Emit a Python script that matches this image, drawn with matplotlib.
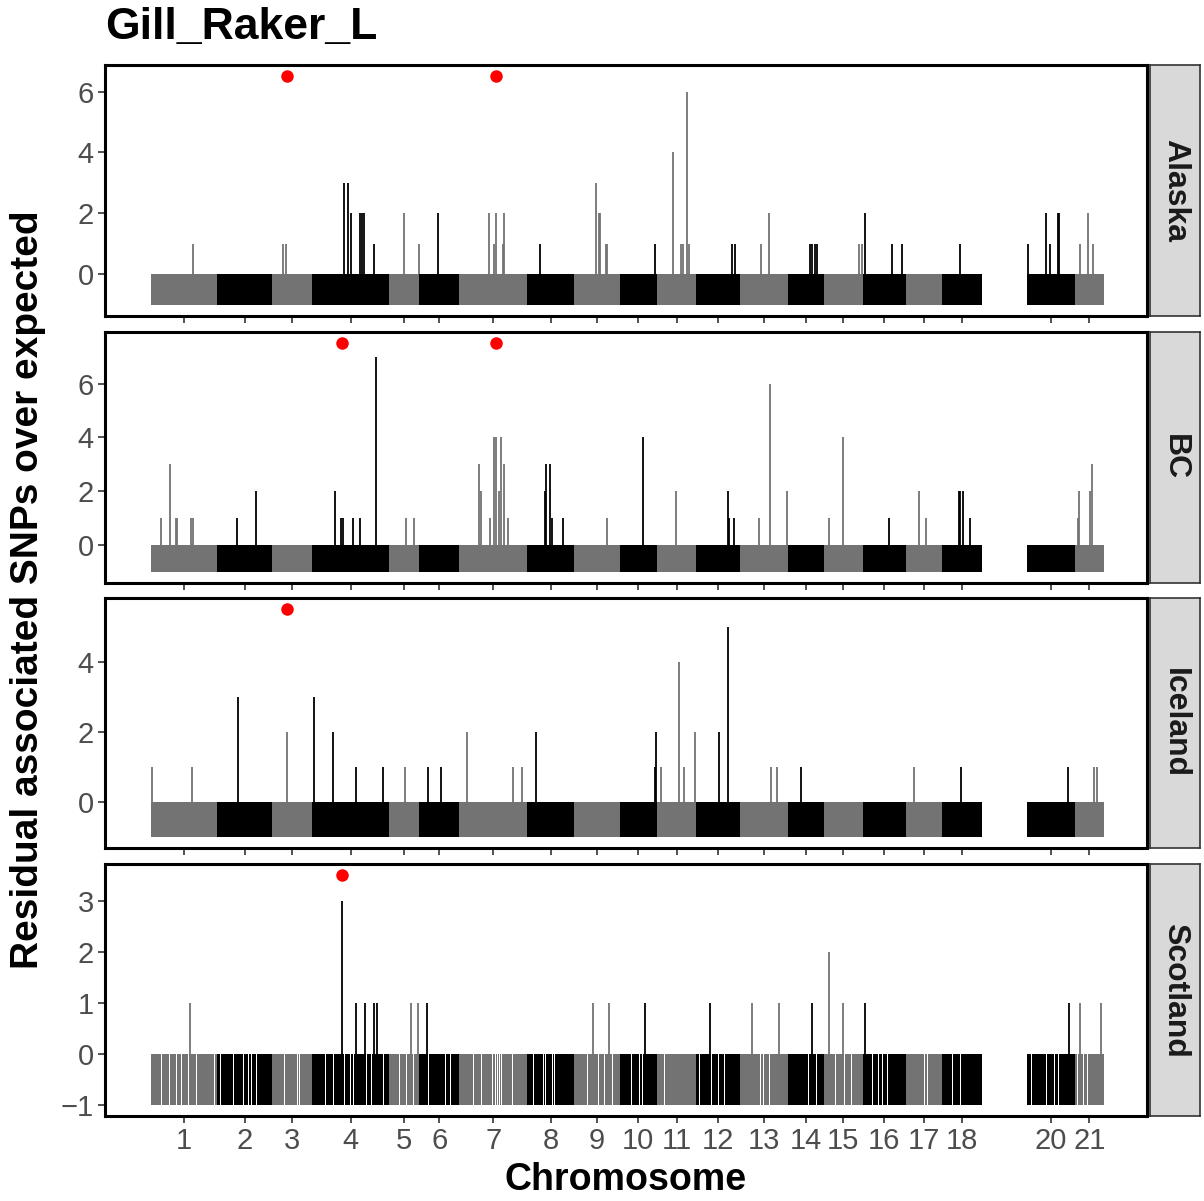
import numpy as np
import matplotlib
matplotlib.use("Agg")
import matplotlib.pyplot as plt

plt.rcParams['font.family'] = ['Liberation Sans', 'DejaVu Sans']

# -------------------------------------------------------------
# Chromosomes (lengths in Mb, chr19 has no windows)
# -------------------------------------------------------------
chrom_names = [str(i) for i in range(1, 22)]
chrom_len = [28.0, 23.1, 16.9, 32.5, 12.8, 16.9, 28.6, 19.9, 19.1, 15.6, 16.7,
             18.6, 20.2, 14.9, 16.5, 18.1, 15.2, 16.9, 19.2, 20.0, 12.4]
chrom_missing = ["19"]

populations = ["Alaska", "BC", "Iceland", "Scotland"]

# spikes: cumulative genome position (Mb) and residual value
alaska_pos = [17.8, 55.8, 57.0, 81.4, 83.2, 84.4, 88.3, 89.2, 90.1, 94.3, 106.8, 113.0,
              121.2, 142.7, 144.6, 145.7, 148.5, 149.2, 164.0, 187.7, 189.2, 189.6, 191.9,
              192.5, 212.8, 220.1, 223.7, 224.5, 226.2, 227.1, 245.0, 246.3, 257.5, 260.8,
              278.0, 279.0, 280.1, 280.8, 298.6, 299.9, 301.4, 312.8, 317.0, 341.4, 370.2,
              377.8, 379.3, 382.6, 383.2, 392.1, 395.3, 397.4]
alaska_val = [1, 1, 1, 3, 3, 2, 2, 2, 2, 1, 2, 1,
              2, 2, 1, 2, 1, 2, 1, 3, 2, 2, 1,
              1, 1, 4, 1, 1, 6, 1, 1, 1, 1, 2,
              1, 1, 1, 1, 1, 1, 2, 1, 1, 1, 1,
              2, 1, 2, 2, 1, 2, 1]

bc_pos = [4.2, 8.3, 10.5, 11.2, 16.9, 17.7, 36.5, 44.3, 77.8, 80.4, 81.0, 85.1, 88.3,
          95.1, 107.7, 111.2, 138.4, 139.2, 143.0, 144.9, 145.7, 146.7, 147.9, 148.8,
          150.8, 166.1, 166.5, 168.4, 169.3, 173.8, 192.5, 207.6, 221.4, 243.3, 243.7,
          246.0, 256.5, 261.0, 268.5, 286.2, 292.0, 311.4, 324.2, 327.1, 340.8, 341.5,
          342.4, 345.6, 391.0, 391.6, 396.0, 396.8]
bc_val = [1, 3, 1, 1, 1, 1, 1, 2, 2, 1, 1, 1, 1,
          7, 1, 1, 3, 2, 1, 4, 4, 2, 4, 3,
          1, 2, 3, 3, 1, 1, 1, 4, 2, 2, 1,
          1, 1, 6, 2, 1, 4, 1, 2, 1, 2, 2,
          2, 1, 1, 2, 2, 3]

iceland_pos = [0.4, 17.3, 37.0, 57.4, 69.0, 76.8, 86.6, 97.9, 107.3, 116.9, 122.4, 133.3,
               152.6, 156.7, 162.6, 212.7, 213.0, 215.0, 222.9, 224.9, 229.7, 239.8, 243.6,
               261.4, 264.3, 274.4, 321.8, 341.8, 386.9, 397.7, 398.9]
iceland_val = [1, 1, 3, 2, 3, 2, 1, 1, 1, 1, 1, 2,
               1, 1, 2, 1, 2, 1, 4, 1, 2, 2, 5,
               1, 1, 1, 1, 1, 1, 1, 1]

scotland_pos = [16.6, 80.6, 86.5, 90.4, 94.2, 95.4, 109.8, 112.9, 116.5, 186.6, 193.2,
                208.3, 235.7, 253.6, 264.9, 278.9, 286.1, 291.8, 301.4, 387.2, 392.0, 400.8]
scotland_val = [1, 3, 1, 1, 1, 1, 1, 1, 1, 1, 1,
                1, 1, 1, 1, 1, 2, 1, 1, 1, 1, 1]

# windows without a -1 residual (white gaps), Scotland only
scotland_gaps = [4.6, 7.8, 11.0, 13.2, 15.7, 19.4, 27.1, 29.5, 34.9, 39.1, 41.2, 42.6,
                 44.7, 46.8, 54.6, 56.7, 61.7, 62.6, 63.4, 74.0, 77.0, 82.0, 84.1, 85.5,
                 91.1, 93.2, 96.8, 98.1, 105.2, 108.0, 110.8, 117.1, 124.2, 126.3, 136.1,
                 139.7, 143.6, 144.4, 145.3, 146.1, 147.0, 147.8, 150.2, 152.7, 161.4,
                 164.0, 165.9, 166.4, 169.2, 170.0, 184.0, 188.9, 191.4, 194.7, 202.8,
                 206.1, 207.7, 216.8, 221.7, 231.6, 236.5, 239.8, 242.2, 257.0, 258.6,
                 261.1, 277.6, 280.8, 289.0, 292.3, 295.6, 304.6, 307.1, 308.7, 310.4,
                 326.0, 327.6, 338.3, 341.6, 371.4, 376.0, 377.7, 380.9, 382.6, 390.5,
                 393.3, 394.9]

# red markers (candidate regions)
alaska_dots = [57.5, 145.6]
bc_dots = [80.8, 145.6]
iceland_dots = [57.4]
scotland_dots = [80.7]

spikes = {"Alaska": (alaska_pos, alaska_val), "BC": (bc_pos, bc_val),
          "Iceland": (iceland_pos, iceland_val), "Scotland": (scotland_pos, scotland_val)}
gaps = {"Alaska": [], "BC": [], "Iceland": [], "Scotland": scotland_gaps}
dots = {"Alaska": alaska_dots, "BC": bc_dots, "Iceland": iceland_dots, "Scotland": scotland_dots}

# -------------------------------------------------------------
# Genome layout
# -------------------------------------------------------------
chrom_len = np.array(chrom_len)
chrom_start = np.concatenate([[0], np.cumsum(chrom_len)[:-1]])
chrom_end = chrom_start + chrom_len
chrom_mid = chrom_start + chrom_len / 2
GREY, BLACK = "#737373", "#000000"


def chrom_colour(pos):
    idx = np.searchsorted(chrom_end, pos, side="right")
    idx = np.clip(idx, 0, len(chrom_names) - 1)
    return [GREY if i % 2 == 0 else BLACK for i in idx]


# background windows, sized so they tile each chromosome exactly
win = 0.4
bg_x, bg_w = [], []
for name, s, L in zip(chrom_names, chrom_start, chrom_len):
    if name in chrom_missing:
        continue
    n = int(round(L / win))
    w = L / n
    bg_x.extend(s + w * (np.arange(n) + 0.5))
    bg_w.extend([w] * n)
bg_x = np.array(bg_x)
bg_w = np.array(bg_w)

shown = [i for i, n in enumerate(chrom_names) if n not in chrom_missing]

# -------------------------------------------------------------
# Plot
# -------------------------------------------------------------
W, H = 1204, 1201
fig = plt.figure(figsize=(W / 100, H / 100), dpi=100)

panel_px = [(65, 316), (332, 583), (598, 848), (864, 1116)]
x0, x1 = 105, 1147
sx0, sx1 = 1150, 1200

for k, pop in enumerate(populations):
    top, bot = panel_px[k]
    ax = fig.add_axes([x0 / W, 1 - bot / H, (x1 - x0) / W, (bot - top) / H])

    keep = np.ones(len(bg_x), bool)
    for g in gaps[pop]:
        keep[np.argmin(np.abs(bg_x - g))] = False
    bx = bg_x[keep]
    ax.bar(bx, -1, width=bg_w[keep] * 1.02, bottom=0, color=chrom_colour(bx),
           linewidth=0, antialiased=False)

    pos, val = spikes[pop]
    pos = np.array(pos)
    ax.vlines(pos, 0, val, colors=chrom_colour(pos), lw=1.3)

    ymax = max(val) + 0.5
    ax.plot(dots[pop], [ymax] * len(dots[pop]), "o", color="red", ms=9,
            markeredgewidth=0)

    pad_y = (ymax + 1) * 0.05
    ax.set_ylim(-1 - pad_y, ymax + pad_y)
    span = chrom_end[-1]
    ax.set_xlim(-span * 0.048, span * 1.045)

    if pop == "Scotland":
        ax.set_yticks([-1, 0, 1, 2, 3])
        ax.set_yticklabels(["\u22121", "0", "1", "2", "3"])
    else:
        ax.set_yticks(np.arange(0, max(val) + 1, 2))

    ax.set_xticks(chrom_mid[shown])
    if k == len(populations) - 1:
        ax.set_xticklabels([chrom_names[i] for i in shown])
    else:
        ax.set_xticklabels([])

    ax.tick_params(axis="both", length=5, width=1.2, color="#333333",
                   labelcolor="#4D4D4D", labelsize=21, pad=3)
    for sp in ax.spines.values():
        sp.set_linewidth(2.2)
        sp.set_color("black")

    # facet strip
    sax = fig.add_axes([sx0 / W, 1 - bot / H, (sx1 - sx0) / W, (bot - top) / H])
    sax.set_facecolor("#D9D9D9")
    sax.set_xticks([])
    sax.set_yticks([])
    for sp in sax.spines.values():
        sp.set_color("#333333")
        sp.set_linewidth(1.2)
    sax.text(0.5, 0.5, pop, rotation=-90, ha="center", va="center",
             fontsize=23, fontweight="bold", color="#1A1A1A", transform=sax.transAxes)

fig.text(x0 / W, 1 - 28 / H, "Gill_Raker_L", fontsize=32, fontweight="bold",
         ha="left", va="center")
fig.text((x0 + x1) / 2 / W, 1 - 1180 / H, "Chromosome", fontsize=27,
         fontweight="bold", ha="center", va="center")
fig.text(28 / W, 1 - 590 / H, "Residual associated SNPs over expected", fontsize=28,
         fontweight="bold", ha="center", va="center", rotation=90)

fig.savefig("out.png", dpi=100)
